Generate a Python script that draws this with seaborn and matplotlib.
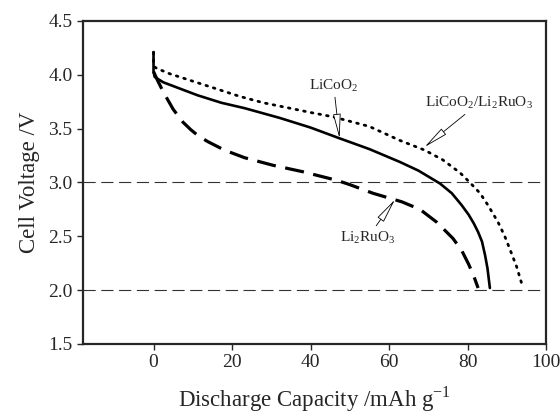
import pandas as pd
import seaborn as sns
import matplotlib.pyplot as plt

# ==========================
# Data
# ==========================
licoo2_cap = [0, 0, 0.3, 2.5, 5.4, 11.2, 17.3, 23.2, 32.1, 40, 47.4, 55, 62.8, 67.5, 73, 76,
              78.5, 80.3, 81.6, 82.7, 83.7, 84.5, 85.1, 85.7]
licoo2_v = [4.21, 4.03, 3.98, 3.93, 3.89, 3.81, 3.74, 3.69, 3.60, 3.51, 3.41, 3.31, 3.19, 3.11, 2.99, 2.90,
            2.79, 2.70, 2.62, 2.54, 2.45, 2.32, 2.20, 2.02]

mixed_cap = [0, 0, 0.8, 4.1, 9.2, 14.3, 21.9, 28, 34.7, 40, 45.7, 55, 62.8, 69.1, 73.7, 78.1,
             80.6, 83.2, 85.2, 87.8, 89.5, 90.8, 92.5, 93.9]
mixed_v = [4.21, 4.08, 4.06, 4.01, 3.95, 3.89, 3.80, 3.74, 3.69, 3.65, 3.61, 3.52, 3.39, 3.30, 3.21, 3.09,
           3.00, 2.90, 2.79, 2.63, 2.50, 2.38, 2.22, 2.05]

ruo_cap = [0, 1, 2.5, 5.0, 7.5, 9.5, 11.5, 13.8, 18.1, 23.2, 30.4, 38, 46.7, 50, 55.9, 63.3, 67.9, 70.4,
           72.2, 76.3, 78.5, 80.3, 81.6, 82.7]
ruo_v = [4.03, 3.95, 3.84, 3.68, 3.56, 3.49, 3.43, 3.38, 3.30, 3.23, 3.16, 3.10, 3.02, 2.98, 2.90, 2.82, 2.75,
         2.68, 2.63, 2.48, 2.37, 2.24, 2.13, 2.02]

x_ticks = [0, 20, 40, 60, 80, 100]
y_ticks = [1.5, 2.0, 2.5, 3.0, 3.5, 4.0, 4.5]
cutoff_v = [3.0, 2.0]

# ==========================
# Style
# ==========================
sns.set_style('ticks')
plt.rcParams['font.family'] = ['Liberation Serif', 'DejaVu Serif']
plt.rcParams['mathtext.fontset'] = 'custom'
plt.rcParams['mathtext.rm'] = 'Liberation Serif'

fig = plt.figure(figsize=(5.6, 4.19), dpi=100)
ax = fig.add_axes([0.148, 0.179, 0.827, 0.771])

# reference cut-off lines
for v in cutoff_v:
    ax.axhline(v, color='#333333', lw=0.8, dashes=(11, 5), zorder=1)

df_a = pd.DataFrame({'cap': licoo2_cap, 'v': licoo2_v})
df_b = pd.DataFrame({'cap': mixed_cap, 'v': mixed_v})
df_c = pd.DataFrame({'cap': ruo_cap, 'v': ruo_v})

# estimator=None so repeated x values (the initial vertical drop) are kept
sns.lineplot(data=df_a, x='cap', y='v', sort=False, estimator=None, ax=ax, color='black', lw=1.9)
line_b = sns.lineplot(data=df_b, x='cap', y='v', sort=False, estimator=None, ax=ax,
                      color='black', lw=2.0).lines[-1]
line_b.set_linestyle((0, (0.6, 2.2)))
line_b.set_dash_capstyle('round')
line_c = sns.lineplot(data=df_c, x='cap', y='v', sort=False, estimator=None, ax=ax,
                      color='black', lw=2.3).lines[-1]
line_c.set_linestyle((0, (6, 3)))

# annotations
arrow = dict(arrowstyle='-|>,head_length=1.4,head_width=0.22', fc='white', ec='black', lw=0.6,
             shrinkA=0, shrinkB=0)
ax.annotate(r'LiCoO$_2$', xy=(47.4, 3.41), xytext=(45.9, 3.90), ha='center', va='center',
            fontsize=11, arrowprops=arrow)
ax.annotate(r'LiCoO$_2$/Li$_2$RuO$_3$', xy=(69.1, 3.33), xytext=(83.0, 3.74), ha='center', va='center',
            fontsize=11, arrowprops=arrow)
ax.annotate(r'Li$_2$RuO$_3$', xy=(61.5, 2.84), xytext=(54.6, 2.49), ha='center', va='center',
            fontsize=11, arrowprops=arrow)

ax.set_xlim(-18, 100)
ax.set_ylim(1.5, 4.5)
ax.set_xticks(x_ticks)
ax.set_yticks(y_ticks)
ax.set_yticklabels([f'{t:.1f}' for t in y_ticks])
ax.tick_params(direction='out', length=4, width=1, labelsize=14, top=False, right=False)
for s in ax.spines.values():
    s.set_visible(True)
    s.set_linewidth(1.6)
ax.set_xlabel('Discharge Capacity /mAh g$^{-1}$', fontsize=16.5, labelpad=9)
ax.set_ylabel('Cell Voltage /V', fontsize=16.5, labelpad=6)

fig.savefig('out.png', dpi=100)
